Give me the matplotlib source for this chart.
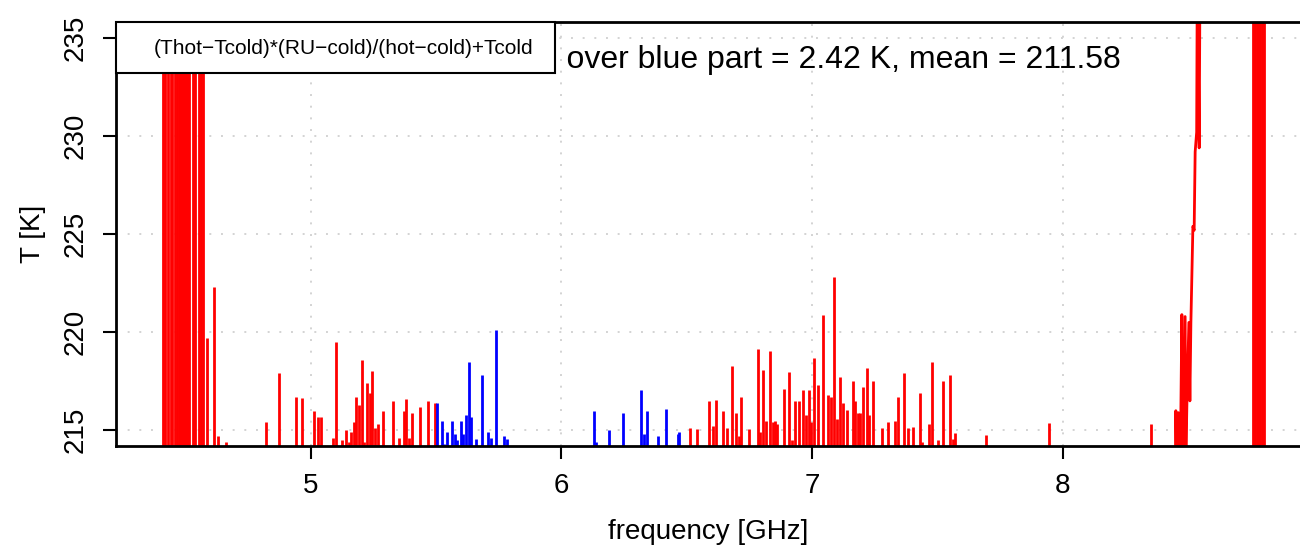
import numpy as np
import matplotlib
matplotlib.use("Agg")
import matplotlib.pyplot as plt
from matplotlib.patches import Rectangle

plt.rcParams['font.family'] = ['Liberation Sans', 'DejaVu Sans']

# spikes of the red part (frequency GHz, peak temperature K)
red_freq = [4.411, 4.420, 4.431, 4.442, 4.448, 4.458, 4.467, 4.475, 4.481, 4.485,
            4.489, 4.493, 4.497, 4.501, 4.505, 4.509, 4.513, 4.517, 4.531, 4.541,
            4.554, 4.564, 4.573,
            4.587, 4.615, 4.631, 4.663, 4.821, 4.873, 4.941, 4.967, 5.015, 5.029,
            5.042, 5.089, 5.100, 5.124, 5.140, 5.154, 5.161, 5.173, 5.181, 5.193,
            5.204, 5.215, 5.226, 5.236, 5.244, 5.257, 5.270, 5.290, 5.330, 5.354,
            5.373, 5.382, 5.394, 5.404, 5.437, 5.467, 5.496,
            6.513, 6.540, 6.589, 6.604, 6.617, 6.646, 6.659, 6.681, 6.698, 6.707,
            6.715, 6.750, 6.783, 6.792, 6.805, 6.816, 6.831, 6.843, 6.852, 6.861,
            6.888, 6.909, 6.919, 6.932, 6.949, 6.962, 6.974, 6.986, 6.997, 7.006,
            7.024, 7.045, 7.062, 7.075, 7.088, 7.098, 7.111, 7.124, 7.138, 7.162,
            7.172, 7.182, 7.191, 7.202, 7.218, 7.227, 7.244, 7.277, 7.304, 7.331,
            7.344, 7.368, 7.381, 7.403, 7.430, 7.437, 7.466, 7.477, 7.503, 7.523,
            7.550, 7.561, 7.571, 7.692, 7.945, 8.350,
            8.759, 8.763, 8.766, 8.772, 8.779, 8.782, 8.785, 8.795, 8.798, 8.801]
red_peak = [250, 250, 250, 250, 250, 250, 250, 250, 250, 250,
            250, 250, 250, 250, 250, 250, 250, 250, 250, 250,
            250, 250, 250,
            219.7, 222.3, 214.7, 214.4, 215.4, 217.9, 216.7, 216.65, 216.0, 215.7,
            215.7, 214.6, 219.5, 214.5, 215.0, 214.4, 214.9, 215.4, 216.7, 216.3,
            218.6, 214.4, 217.4, 216.9, 218.0, 215.1, 215.3, 216.0, 216.5, 214.6,
            216.0, 216.6, 214.6, 215.9, 216.2, 216.5, 216.4,
            215.1, 215.05, 216.5, 215.2, 216.55, 216.0, 215.1, 218.26, 215.9, 214.7,
            216.7, 215.07, 219.14, 214.9, 218.1, 215.5, 219.06, 215.4, 215.5, 215.3,
            217.1, 217.97, 214.5, 216.5, 216.5, 217.06, 215.8, 217.03, 215.4, 218.7,
            217.3, 220.9, 216.8, 216.7, 222.8, 215.6, 217.7, 216.4, 216.04, 217.5,
            216.5, 215.9, 215.9, 217.2, 218.2, 215.8, 217.5, 215.1, 215.4, 215.5,
            216.7, 217.9, 215.1, 215.15, 216.9, 214.4, 215.3, 218.5, 214.5, 217.5,
            217.8, 214.55, 214.85, 214.76, 215.36, 215.3,
            250, 250, 250, 250, 250, 250, 250, 250, 250, 250]

# rising edge near 8.5 GHz (connected samples)
climb_freq = [8.447, 8.450, 8.455, 8.460, 8.466, 8.474, 8.478, 8.487, 8.490, 8.494,
              8.502, 8.506, 8.510, 8.518, 8.523, 8.527, 8.533, 8.536, 8.543, 8.547, 8.56]
climb_T = [211.0, 216.0, 211.5, 215.9, 211.0, 220.9, 213.0, 220.8, 213.5, 216.3,
           220.5, 216.5, 220.5, 225.4, 225.2, 229.2, 230.2, 240.0, 229.4, 240.0, 245.0]

# blue part
blue_freq = [5.506, 5.523, 5.532, 5.544, 5.563, 5.576, 5.585, 5.600, 5.609, 5.620,
             5.631, 5.640, 5.660, 5.683, 5.709, 5.721, 5.738, 5.772, 5.782,
             6.130, 6.140, 6.190, 6.247, 6.319, 6.330, 6.341, 6.387, 6.417, 6.467, 6.470]
blue_peak = [216.4, 215.5, 214.3, 214.9, 215.5, 214.8, 214.5, 215.5, 214.8, 215.8,
             218.5, 215.7, 214.55, 217.8, 214.9, 214.6, 220.1, 214.7, 214.55,
             216.0, 214.4, 215.0, 215.9, 217.06, 214.8, 216.0, 214.7, 216.1, 214.8, 214.9]
floor_T = 210.0

fig = plt.figure(figsize=(13, 5.51), dpi=100)
ax = fig.add_axes([116/1300, 105/551, 1184/1300, 424/551])

ax.vlines(red_freq, floor_T, red_peak, color='#ff0000', linewidth=2.0)
ax.plot(climb_freq, climb_T, color='#ff0000', linewidth=2.0)
ax.vlines(blue_freq, floor_T, blue_peak, color='#0000ff', linewidth=2.0)

ax.set_xlim(4.2245, 8.945)
ax.set_ylim(214.2, 235.82)
ax.set_xticks([5, 6, 7, 8])
ax.set_yticks([215, 220, 225, 230, 235])
ax.grid(True, color='#d3d3d3', linestyle=(0, (1, 5)), linewidth=1.4)
ax.set_axisbelow(True)

for s in ['left', 'bottom', 'top']:
    ax.spines[s].set_linewidth(2.0)
ax.spines['right'].set_visible(False)
ax.tick_params(axis='both', length=9.5, width=1.5, labelsize=20, direction='out')
ax.tick_params(axis='x', pad=10)
ax.tick_params(axis='y', pad=10)
for lab in ax.get_yticklabels():
    lab.set_rotation(90)
    lab.set_va('center')

ax.set_xlabel('frequency [GHz]', fontsize=20, labelpad=14)
ax.set_ylabel('T [K]', fontsize=20, labelpad=12)

ax.text(0.5, 233.46, 'standard deviation over blue part = 2.42 K, mean = 211.58',
        transform=ax.get_yaxis_transform(), ha='center', va='baseline', fontsize=23)

box = Rectangle((0, 1 - 51/424), 439/1184, 51/424, transform=ax.transAxes,
                facecolor='white', edgecolor='black', linewidth=1.5, zorder=5, clip_on=False)
ax.add_patch(box)
ax.text(38/1184, 1 - 26/424, '(Thot\u2212Tcold)*(RU\u2212cold)/(hot\u2212cold)+Tcold',
        transform=ax.transAxes, ha='left', va='center', fontsize=15, zorder=6)

fig.savefig('out.png', dpi=100)
